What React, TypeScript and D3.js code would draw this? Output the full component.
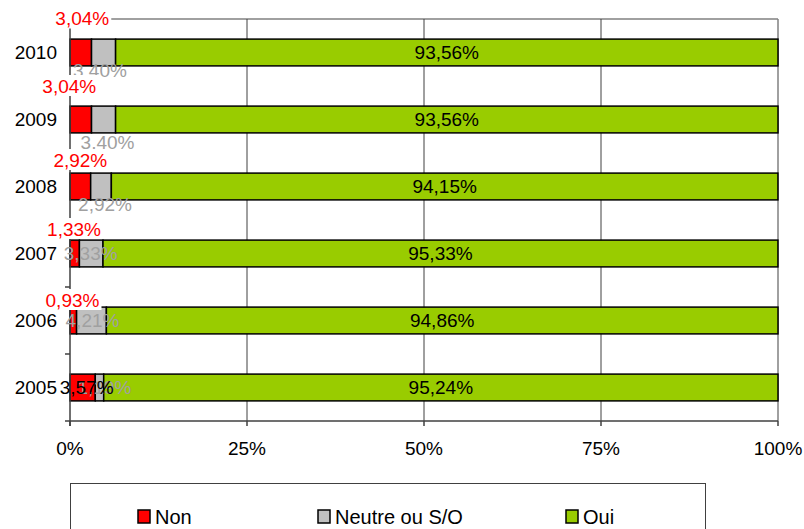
import React from "react";
import * as d3 from "d3";

const years = ["2010", "2009", "2008", "2007", "2006", "2005"];
const nonValues = [3.04, 3.04, 2.92, 1.33, 0.93, 3.57];
const neutreValues = [3.4, 3.4, 2.92, 3.33, 4.21, 1.19];
const ouiValues = [93.56, 93.56, 94.15, 95.33, 94.86, 95.24];
const tickValues = [0, 25, 50, 75, 100];
const seriesNames = ["Non", "Neutre ou S/O", "Oui"];
const seriesColors = ["#FF0000", "#C0C0C0", "#99CC00"];

// manual label placement (as moved in the original sheet), in px
const nonLabelDx = [1.5, -11.5, 0, -0.7, -0.8, 4];
const nonLabelDy = [-34, -33.5, -26.5, -24.5, -20.5, 0];
const nonLabelColor = ["#FF0000", "#FF0000", "#FF0000", "#FF0000", "#FF0000", "#000000"];
const neutreLabelDx = [-3.6, 4, 4, -0.5, 1, 5];
const neutreLabelDy = [18, 22.5, 17.5, 0, 0, 0];

const W = 804;
const H = 529;
const left = 70;
const right = 778;
const top = 19;
const bottom = 421;

const fmt = (v: number) => v.toFixed(2).replace(".", ",") + "%";
const FONT = "'Liberation Sans', Arial, sans-serif";

export default function App() {
  const x = d3.scaleLinear().domain([0, 100]).range([left, right]);
  const y = d3.scaleBand<string>().domain(years).range([top, bottom]);
  const bw = y.bandwidth();
  const barH = bw / 2.5;

  const rows = years.map((yr, i) => {
    const vals = [nonValues[i], neutreValues[i], ouiValues[i]];
    let acc = 0;
    const segs = vals.map((v, k) => {
      const s = { x0: acc, x1: acc + v, v, k };
      acc += v;
      return s;
    });
    return { yr, i, segs };
  });

  return (
    <svg
      width={W}
      height={H}
      style={{ position: "absolute", left: 0, top: 0, background: "#fff" }}
      fontFamily={FONT}
    >
      {/* plot border (top/right) */}
      <line x1={left} x2={right} y1={top} y2={top} stroke="#808080" strokeWidth={1.5} />
      <line x1={right} x2={right} y1={top} y2={bottom} stroke="#808080" strokeWidth={1.5} />
      {/* gridlines */}
      {tickValues.slice(1, -1).map((t) => (
        <line key={t} x1={x(t)} x2={x(t)} y1={top} y2={bottom} stroke="#404040" strokeWidth={1} />
      ))}
      {/* bars */}
      {rows.map((r) => {
        const cy = (y(r.yr) as number) + bw / 2;
        return (
          <g key={r.yr}>
            {r.segs.map((s) => (
              <rect
                key={s.k}
                x={x(s.x0)}
                y={cy - barH / 2}
                width={x(s.x1) - x(s.x0)}
                height={barH}
                fill={seriesColors[s.k]}
                stroke="#000"
                strokeWidth={1.5}
              />
            ))}
          </g>
        );
      })}
      {/* axes */}
      <line x1={left} x2={left} y1={top} y2={bottom + 5} stroke="#404040" strokeWidth={1.5} />
      <line x1={left - 5} x2={right} y1={bottom} y2={bottom} stroke="#404040" strokeWidth={1.5} />
      {years.map((yr) => (
        <line key={yr} x1={left - 5} x2={left} y1={y(yr) as number} y2={y(yr) as number} stroke="#404040" strokeWidth={1.5} />
      ))}
      {tickValues.map((t) => (
        <g key={t}>
          <line x1={x(t)} x2={x(t)} y1={bottom} y2={bottom + 5} stroke="#404040" strokeWidth={1.5} />
          <text x={x(t)} y={448} textAnchor="middle" dominantBaseline="central" fontSize={19} fill="#000">
            {t + "%"}
          </text>
        </g>
      ))}
      {years.map((yr) => (
        <text
          key={yr}
          x={57}
          y={(y(yr) as number) + bw / 2}
          textAnchor="end"
          dominantBaseline="central"
          fontSize={19}
          fill="#000"
        >
          {yr}
        </text>
      ))}
      {/* Oui labels */}
      {rows.map((r) => {
        const cy = (y(r.yr) as number) + bw / 2;
        const s = r.segs[2];
        return (
          <text key={r.yr} x={(x(s.x0) + x(s.x1)) / 2} y={cy} textAnchor="middle" dominantBaseline="central" fontSize={19} fill="#000">
            {fmt(s.v)}
          </text>
        );
      })}
      {/* Neutre labels */}
      {rows.map((r) => {
        const cy = (y(r.yr) as number) + bw / 2;
        const s = r.segs[1];
        return (
          <text
            key={r.yr}
            x={(x(s.x0) + x(s.x1)) / 2 + neutreLabelDx[r.i]}
            y={cy + neutreLabelDy[r.i]}
            textAnchor="middle"
            dominantBaseline="central"
            fontSize={19}
            fill="#A0A0A0"
          >
            {fmt(s.v)}
          </text>
        );
      })}
      {/* Non labels */}
      {rows.map((r) => {
        const cy = (y(r.yr) as number) + bw / 2;
        const s = r.segs[0];
        const lx = (x(s.x0) + x(s.x1)) / 2 + nonLabelDx[r.i];
        const ly = cy + nonLabelDy[r.i];
        const boxed = nonLabelDy[r.i] !== 0;
        return (
          <g key={r.yr}>
            {boxed && <rect x={lx - 29} y={ly - 11} width={58} height={21} fill="#fff" />}
            <text x={lx} y={ly} textAnchor="middle" dominantBaseline="central" fontSize={19} fill={nonLabelColor[r.i]}>
              {fmt(s.v)}
            </text>
          </g>
        );
      })}
      {/* legend */}
      <rect x={70.5} y={483.5} width={635} height={60} fill="#fff" stroke="#404040" strokeWidth={1} />
      {seriesNames.map((n, k) => {
        const lx = [138, 318, 566][k];
        return (
          <g key={n}>
            <rect x={lx} y={510} width={12} height={13} fill={seriesColors[k]} stroke="#000" strokeWidth={1.5} />
            <text x={lx + 17} y={517} dominantBaseline="central" fontSize={20} fill="#000">
              {n}
            </text>
          </g>
        );
      })}
    </svg>
  );
}
